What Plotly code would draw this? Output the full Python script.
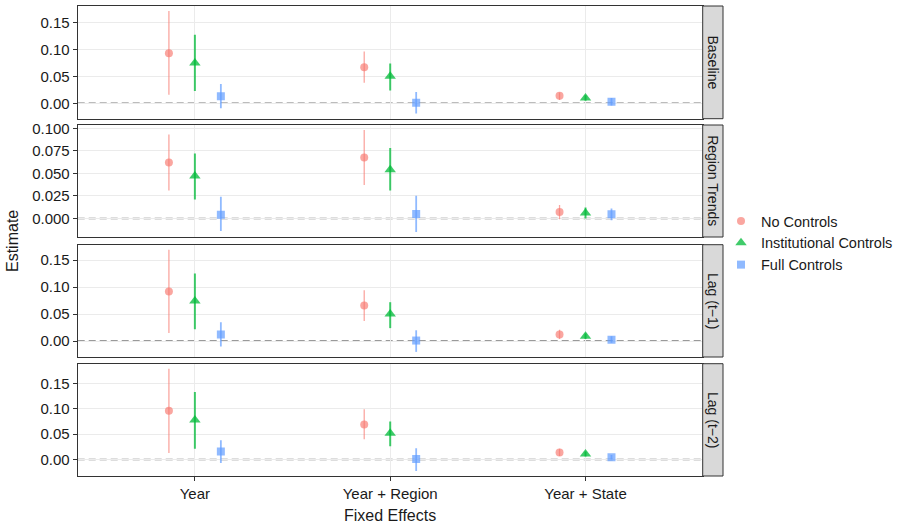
import plotly.graph_objects as go

# ---- data -------------------------------------------------------------
categories = ["Year", "Year + Region", "Year + State"]
panels = ["Baseline", "Region Trends", "Lag (t\u22121)", "Lag (t\u22122)"]
series = ["No Controls", "Institutional Controls", "Full Controls"]

# point estimates, lower and upper interval bounds: [panel][category]
no_est = [[0.093, 0.067, 0.014], [0.062, 0.0675, 0.007], [0.092, 0.066, 0.012], [0.096, 0.069, 0.014]]
no_lo = [[0.016, 0.038, 0.006], [0.031, 0.037, -0.001], [0.015, 0.037, 0.004], [0.013, 0.040, 0.007]]
no_hi = [[0.171, 0.096, 0.020], [0.093, 0.098, 0.015], [0.169, 0.094, 0.021], [0.179, 0.099, 0.021]]

inst_est = [[0.075, 0.050, 0.010], [0.047, 0.054, 0.006], [0.074, 0.050, 0.009], [0.078, 0.052, 0.011]]
inst_lo = [[0.023, 0.024, 0.005], [0.021, 0.031, 0.000], [0.022, 0.024, 0.004], [0.021, 0.026, 0.006]]
inst_hi = [[0.127, 0.074, 0.015], [0.072, 0.078, 0.012], [0.125, 0.072, 0.014], [0.133, 0.075, 0.016]]

full_est = [[0.013, 0.001, 0.003], [0.004, 0.005, 0.0045], [0.012, 0.001, 0.0025], [0.016, 0.001, 0.0045]]
full_lo = [[-0.009, -0.019, -0.004], [-0.014, -0.015, -0.002], [-0.010, -0.020, -0.003], [-0.007, -0.0225, 0.000]]
full_hi = [[0.036, 0.021, 0.010], [0.024, 0.025, 0.011], [0.035, 0.020, 0.009], [0.038, 0.022, 0.009]]

tick_steps = [0.05, 0.025, 0.05, 0.05]
tick_formats = [".2f", ".3f", ".2f", ".2f"]

# ---- styling ----------------------------------------------------------
W, H = 909, 528
FONT = "Liberation Sans, Arial, Helvetica, sans-serif"
TXT = "#1a1a1a"
colors = ["rgba(248,118,109,0.65)", "rgba(0,186,56,0.75)", "rgba(97,156,255,0.7)"]
symbols = ["circle", "triangle-up", "square"]
msizes = [8, 10, 8]
lwidths = [1.3, 2.0, 1.8]
dodge = [-0.133, 0.0, 0.133]

# panel geometry in pixels (left, right, top/bottom per row)
left_px, right_px, strip_px = 77.7, 702.7, 723.0
rows_px = [(6.0, 118.7), (125.0, 237.0), (244.7, 357.0), (363.7, 476.0)]

est = [no_est, inst_est, full_est]
lo = [no_lo, inst_lo, full_lo]
hi = [no_hi, inst_hi, full_hi]

fig = go.Figure()
shapes, annotations = [], []
xdom = [left_px / W, right_px / W]

for p, pname in enumerate(panels):
    ax = "" if p == 0 else str(p + 1)
    for s, sname in enumerate(series):
        e = est[s][p]
        fig.add_trace(go.Scatter(
            x=[i + 1 + dodge[s] for i in range(len(categories))],
            y=e,
            mode="markers",
            name=sname,
            legendgroup=sname,
            showlegend=(p == 0),
            marker=dict(symbol=symbols[s], size=msizes[s], color=colors[s], line=dict(width=0)),
            error_y=dict(type="data", symmetric=False,
                         array=[h - v for h, v in zip(hi[s][p], e)],
                         arrayminus=[v - l for v, l in zip(e, lo[s][p])],
                         width=0, thickness=lwidths[s], color=colors[s]),
            xaxis="x" + ax, yaxis="y" + ax,
        ))

    # y range with 5% expansion of the data span
    ymin = min(min(lo[s][p]) for s in range(3))
    ymax = max(max(hi[s][p]) for s in range(3))
    pad = 0.05 * (ymax - ymin)
    top, bot = rows_px[p]
    ydom = [1 - bot / H, 1 - top / H]
    last = p == len(panels) - 1

    fig.layout["xaxis" + ax] = dict(
        domain=xdom, anchor="y" + ax, range=[0.4, len(categories) + 0.6],
        tickmode="array", tickvals=[i + 1 for i in range(len(categories))],
        ticktext=categories, showticklabels=last,
        ticks="outside" if last else "", ticklen=4, tickcolor="#333333", tickwidth=1,
        showgrid=True, gridcolor="#EBEBEB", gridwidth=1.1, zeroline=False,
        showline=True, mirror=True, linecolor="#333333", linewidth=1,
        tickfont=dict(family=FONT, size=15, color=TXT),
        matches=None if p == 0 else "x",
    )
    fig.layout["yaxis" + ax] = dict(
        domain=ydom, anchor="x" + ax, range=[ymin - pad, ymax + pad],
        tick0=0, dtick=tick_steps[p], tickformat=tick_formats[p],
        ticks="outside", ticklen=4, tickcolor="#333333", tickwidth=1,
        showgrid=True, gridcolor="#EBEBEB", gridwidth=1.1, zeroline=False,
        showline=True, mirror=True, linecolor="#333333", linewidth=1,
        tickfont=dict(family=FONT, size=15, color=TXT),
    )

    # dashed reference line at zero
    shapes.append(dict(type="line", xref="x" + ax, yref="y" + ax,
                       x0=0.4, x1=len(categories) + 0.6, y0=0, y1=0, layer="below",
                       line=dict(color="#7a7a7a", width=1.5, dash="7px,4px")))
    # facet strip on the right
    shapes.append(dict(type="rect", xref="paper", yref="paper",
                       x0=right_px / W, x1=strip_px / W, y0=ydom[0], y1=ydom[1],
                       fillcolor="#D9D9D9", line=dict(color="#333333", width=1)))
    annotations.append(dict(text=pname, xref="paper", yref="paper",
                            x=(right_px + strip_px) / 2 / W, y=sum(ydom) / 2,
                            xanchor="center", yanchor="middle",
                            textangle=90, showarrow=False,
                            font=dict(family=FONT, size=14, color=TXT)))

# shared axis titles
annotations.append(dict(text="Estimate", xref="paper", yref="paper",
                        x=12 / W, y=1 - 241 / H, xanchor="center", yanchor="middle",
                        textangle=-90, showarrow=False,
                        font=dict(family=FONT, size=16, color=TXT)))
annotations.append(dict(text="Fixed Effects", xref="paper", yref="paper",
                        x=(left_px + right_px) / 2 / W, y=1 - 515 / H,
                        xanchor="center", yanchor="middle", showarrow=False,
                        font=dict(family=FONT, size=16, color=TXT)))

fig.update_layout(
    width=W, height=H,
    margin=dict(l=0, r=0, t=0, b=0, autoexpand=False),
    paper_bgcolor="white", plot_bgcolor="white",
    shapes=shapes, annotations=annotations,
    showlegend=True,
    legend=dict(x=721 / W, y=1 - 243 / H, xanchor="left", yanchor="middle",
                font=dict(family=FONT, size=14.5, color=TXT),
                bgcolor="rgba(0,0,0,0)", itemwidth=30, tracegroupgap=0),
)

fig.write_html("out.html")
